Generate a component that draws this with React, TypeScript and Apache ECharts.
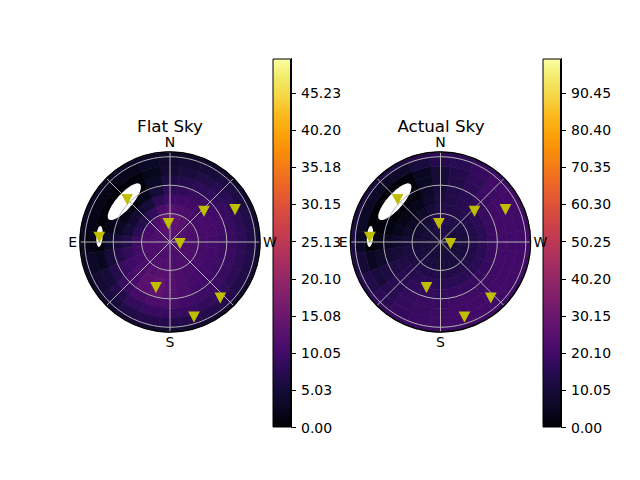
import React, { useEffect, useRef } from 'react';
import * as echarts from 'echarts';

// Azimuth bin centres (deg, N=0, E=90, S=180, W=270) and zenith ring edges (deg)
const AZIMUTHS = [0, 15, 30, 45, 60, 75, 90, 105, 120, 135, 150, 165, 180, 195, 210, 225, 240, 255, 270, 285, 300, 315, 330, 345];
const AZ_HALF = 7.5;
const RING_EDGES = [0, 10, 20, 30, 40, 50, 60, 70, 80, 90, 95];

// Flat Sky field, one row per zenith ring, one value per azimuth bin
const FLAT_SKY = [
  [12.5, 12.5, 12, 11.5, 11.5, 11.5, 11.5, 11.5, 11.5, 11.5, 11.5, 11.5, 11.5, 11.5, 11.5, 11.5, 11.5, 11.5, 11.5, 11.5, 11.5, 12, 12, 12.5],
  [13.5, 13, 12.5, 11.5, 11, 11, 11, 11, 11, 11, 11, 11, 11, 11, 11, 11, 11, 11, 11, 11, 11.5, 12, 12.5, 13],
  [14.5, 13.5, 11.5, 10.5, 10, 10.5, 11, 11, 11, 11, 11.5, 11.5, 11.5, 11, 11, 11, 11, 11, 11, 11, 11, 11.5, 12.5, 13.5],
  [12.5, 11, 8.5, 7, 7, 8, 9, 10, 10.5, 11, 12, 12.5, 12, 11, 10.5, 10.5, 10.5, 10.5, 10.5, 10.5, 10.5, 10.5, 11, 11.5],
  [10, 8, 5, 4, 4, 5, 7, 8.5, 10, 11, 13, 14, 12.5, 11, 10.5, 10, 10, 10, 10, 10.5, 10.5, 10, 10, 10],
  [8, 5, 2, 1, 1.5, 3, 5, 7, 9, 10.5, 12.5, 13.5, 12, 11, 10, 10, 9.5, 9.5, 9.5, 10, 10, 9.5, 9, 8.5],
  [6, 3, 0.5, 0, 0.5, 1.5, 3, 5, 7, 9, 10.5, 11, 11, 10, 9.5, 9.5, 9, 9, 9, 9, 9, 8.5, 8, 7],
  [4.5, 2, 0.5, 0.5, 0.5, 0.5, 0.5, 2.5, 5, 7, 8.5, 9, 9, 9, 8.5, 8.5, 8, 8, 8, 8, 8, 7.5, 6.5, 5.5],
  [4, 3, 2, 1.5, 1.5, 1.5, 1.5, 3, 4.5, 5.5, 6.5, 7, 7, 7, 7, 7, 6.5, 6.5, 6.5, 6.5, 6, 6, 5, 4.5],
  [3.5, 3, 3, 3, 3, 3, 3, 3, 3.5, 4, 4.5, 4.5, 4.5, 4.5, 4.5, 4.5, 4.5, 4.5, 4.5, 4.5, 4, 4, 4, 3.5],
];

// Actual Sky field
const ACTUAL_SKY = [
  [11, 10.5, 10, 9.5, 9.5, 9.5, 9.5, 9.5, 9.5, 9.5, 9.5, 9.5, 9.5, 9.5, 9.5, 9.5, 9.5, 9.5, 9.5, 9.5, 10, 10, 10.5, 11],
  [14, 13, 11, 9.5, 9, 9, 9.5, 9.5, 10, 10, 10, 10, 10, 10, 10, 10, 10, 10, 10, 10, 10.5, 11, 12, 13],
  [16, 13.5, 10, 8, 7.5, 8, 9, 10, 10.5, 11, 11, 11, 11, 11, 11, 11, 11, 11, 11, 11, 11.5, 12, 13, 14.5],
  [13.5, 10.5, 7, 5.5, 5.5, 7, 9, 11, 12, 12.5, 13, 13.5, 13, 13, 13, 13, 13, 13, 13, 13, 13.5, 13.5, 13, 13],
  [12, 8, 4, 3, 3, 4.5, 7.5, 10, 12.5, 14, 15, 15.5, 15, 15, 15, 15, 15, 15.5, 15.5, 15.5, 15.5, 15, 14, 13],
  [11, 6, 2, 1, 1, 2.5, 5, 9, 12.5, 15, 16.5, 17, 17, 17.5, 17.5, 17.5, 17.5, 18, 18, 18, 18, 17, 15, 13],
  [10, 5, 1, 0, 0.5, 1.5, 3, 7, 11.5, 15, 17, 18, 18.5, 19, 19, 19, 19, 19.5, 19.5, 19.5, 19.5, 18.5, 16, 13],
  [10, 5, 1, 0.5, 0.5, 0.5, 0.5, 5, 10.5, 14.5, 17, 18, 19, 19.5, 19.5, 20, 20, 20, 20, 20, 20, 19, 16.5, 13.5],
  [14, 11, 7, 6, 6, 6, 6, 9, 13, 15.5, 17.5, 18.5, 19, 19.5, 20, 20, 20, 20, 20, 20, 20, 19.5, 17.5, 15],
  [16, 14, 12, 12, 12, 12, 12, 13, 15, 17, 18, 18.5, 19, 19, 19.5, 19.5, 19.5, 19.5, 19.5, 19.5, 19.5, 19, 17.5, 16],
];

const FLAT_MAX = 49.88;
const ACTUAL_MAX = 99.75;
const FLAT_TICKS = [0, 5.03, 10.05, 15.08, 20.1, 25.13, 30.15, 35.18, 40.2, 45.23];
const ACTUAL_TICKS = [0, 10.05, 20.1, 30.15, 40.2, 50.25, 60.3, 70.35, 80.4, 90.45];

// Star markers (zenith deg, azimuth deg)
const MARKER_ZENITH = [64, 74.8, 19.8, 10.6, 48.6, 76.8, 50, 79.2, 82.8];
const MARKER_AZIMUTH = [45, 86, 5, 262.6, 312.4, 296.7, 162.8, 222.1, 197.8];

// Masked (blank) regions: centre zenith, centre azimuth, radial half-size, azimuthal half-size (deg)
const MASK_ZENITH = [64.3, 74.6];
const MASK_AZIMUTH = [48.6, 85.5];
const MASK_RADIAL_HALF = [8.2, 3.3];
const MASK_AZ_HALF = [22.1, 8.5];

const INFERNO = [
  '#000004', '#0a0722', '#160b39', '#280b53', '#420a68', '#57106e', '#6a176e', '#7f1e6c',
  '#932667', '#a82e5f', '#bc3754', '#cc4248', '#dd513a', '#ea632a', '#f37819', '#f98e09',
  '#fca50a', '#fbba1f', '#f6d746', '#f2ea69', '#fcffa4',
];

const FONT = 'DejaVu Sans';
const DIR_LABELS: Record<number, string> = { 0: 'N', 90: 'E', 180: 'S', 270: 'W' };

function heatData(values: number[][]) {
  const out: number[][] = [];
  values.forEach((row, ri) => {
    const zLo = RING_EDGES[ri];
    const zHi = RING_EDGES[ri + 1];
    row.forEach((v, ai) => out.push([(zLo + zHi) / 2, AZIMUTHS[ai], v, zLo, zHi]));
  });
  return out;
}

function renderHeat(params: any, api: any) {
  const cs = params.coordSys;
  const cx = cs.cx;
  const cy = cs.cy;
  const a = api.value(1);
  const zLo = api.value(3);
  const zHi = api.value(4);
  const pHi = api.coord([zHi, a + AZ_HALF]);
  const pLo = api.coord([zHi, a - AZ_HALF]);
  const pIn = api.coord([zLo, a]);
  const r = Math.hypot(pHi[0] - cx, pHi[1] - cy);
  const r0 = zLo <= 0 ? 0 : Math.hypot(pIn[0] - cx, pIn[1] - cy);
  let s = Math.atan2(pHi[1] - cy, pHi[0] - cx);
  let e = Math.atan2(pLo[1] - cy, pLo[0] - cx);
  while (e <= s) e += Math.PI * 2;
  if (e - s > Math.PI) {
    const s2 = Math.atan2(pLo[1] - cy, pLo[0] - cx);
    let e2 = Math.atan2(pHi[1] - cy, pHi[0] - cx);
    while (e2 <= s2) e2 += Math.PI * 2;
    s = s2;
    e = e2;
  }
  const color = api.visual('color');
  return {
    type: 'sector',
    shape: { cx, cy, r0, r, startAngle: s, endAngle: e, clockwise: true },
    style: { fill: color, stroke: color, lineWidth: 0.7 },
  };
}

function renderMask(params: any, api: any) {
  const cs = params.coordSys;
  const cx = cs.cx;
  const cy = cs.cy;
  const z = api.value(0);
  const a = api.value(1);
  const zh = api.value(2);
  const ah = api.value(3);
  const c = api.coord([z, a]);
  const pOut = api.coord([z + zh, a]);
  const rho = Math.hypot(c[0] - cx, c[1] - cy);
  const ux = (c[0] - cx) / rho;
  const uy = (c[1] - cy) / rho;
  const radLen = Math.hypot(pOut[0] - c[0], pOut[1] - c[1]);
  const tanLen = (rho * ah * Math.PI) / 180;
  const tx = -uy;
  const ty = ux;
  const points: number[][] = [];
  for (let k = 0; k < 60; k++) {
    const t = (2 * Math.PI * k) / 60;
    points.push([
      c[0] + ux * radLen * Math.cos(t) + tx * tanLen * Math.sin(t),
      c[1] + uy * radLen * Math.cos(t) + ty * tanLen * Math.sin(t),
    ]);
  }
  return { type: 'polygon', shape: { points }, style: { fill: '#ffffff' } };
}

const maskData = MASK_ZENITH.map((z, i) => [z, MASK_AZIMUTH[i], MASK_RADIAL_HALF[i], MASK_AZ_HALF[i]]);
const markerData = MARKER_ZENITH.map((z, i) => [z, MARKER_AZIMUTH[i]]);

function gradient() {
  return new echarts.graphic.LinearGradient(
    0, 1, 0, 0,
    INFERNO.map((c, i) => ({ offset: i / (INFERNO.length - 1), color: c }))
  );
}

function angleAxis(idx: number) {
  return {
    polarIndex: idx,
    type: 'value',
    min: 0,
    max: 360,
    interval: 45,
    startAngle: 90,
    clockwise: false,
    z: 11,
    axisLine: { show: true, lineStyle: { color: '#000', width: 1.5 } },
    axisTick: { show: false },
    splitLine: { show: true, lineStyle: { color: '#b0b0b0', width: 1 } },
    axisLabel: {
      margin: 3,
      color: '#000',
      fontSize: 14,
      fontFamily: FONT,
      formatter: (v: number) => DIR_LABELS[v] ?? '',
    },
  };
}

function radiusAxis(idx: number) {
  return {
    polarIndex: idx,
    type: 'value',
    min: 0,
    max: 95,
    interval: 30,
    z: 10,
    axisLine: { show: false },
    axisTick: { show: false },
    axisLabel: { show: false },
    splitLine: { show: true, lineStyle: { color: '#b0b0b0', width: 1 } },
  };
}

function cbYAxis(idx: number, max: number, ticks: number[]) {
  return {
    gridIndex: idx,
    type: 'value',
    min: 0,
    max,
    position: 'right',
    axisLine: { show: true, lineStyle: { color: '#000', width: 1 } },
    axisTick: { show: true, length: 5, lineStyle: { color: '#000' }, customValues: ticks },
    axisLabel: {
      customValues: ticks,
      formatter: (v: number) => v.toFixed(2),
      margin: 10,
      color: '#000',
      fontSize: 14,
      fontFamily: FONT,
    },
    splitLine: { show: false },
  };
}

const markerStyle = { color: '#bfbf00', borderColor: '#bfbf00', borderWidth: 1, opacity: 1 };

export default function App() {
  const ref = useRef<HTMLDivElement>(null);
  useEffect(() => {
    if (!ref.current) return;
    const chart = echarts.init(ref.current, null, { renderer: 'svg' });
    const option: any = {
      animation: false,
      backgroundColor: '#ffffff',
      textStyle: { fontFamily: FONT },
      polar: [
        { center: [170, 242], radius: 90 },
        { center: [440.5, 242], radius: 90 },
      ],
      angleAxis: [angleAxis(0), angleAxis(1)],
      radiusAxis: [radiusAxis(0), radiusAxis(1)],
      grid: [
        { left: 272.5, top: 58.5, width: 18.5, height: 369 },
        { left: 542.5, top: 58.5, width: 18.5, height: 369 },
      ],
      xAxis: [
        { gridIndex: 0, type: 'category', data: ['cb'], show: false },
        { gridIndex: 1, type: 'category', data: ['cb'], show: false },
      ],
      yAxis: [cbYAxis(0, FLAT_MAX, FLAT_TICKS), cbYAxis(1, ACTUAL_MAX, ACTUAL_TICKS)],
      visualMap: [
        { type: 'continuous', show: false, seriesIndex: 0, dimension: 2, min: 0, max: FLAT_MAX, inRange: { color: INFERNO } },
        { type: 'continuous', show: false, seriesIndex: 1, dimension: 2, min: 0, max: ACTUAL_MAX, inRange: { color: INFERNO } },
      ],
      graphic: [
        { type: 'text', x: 170, y: 126, style: { text: 'Flat Sky', fontSize: 16.7, fontFamily: FONT, fill: '#000', align: 'center', verticalAlign: 'middle' } },
        { type: 'text', x: 441, y: 126, style: { text: 'Actual Sky', fontSize: 16.7, fontFamily: FONT, fill: '#000', align: 'center', verticalAlign: 'middle' } },
      ],
      series: [
        { type: 'custom', coordinateSystem: 'polar', polarIndex: 0, z: 1, encode: { radius: 0, angle: 1 }, data: heatData(FLAT_SKY), renderItem: renderHeat, silent: true },
        { type: 'custom', coordinateSystem: 'polar', polarIndex: 1, z: 1, encode: { radius: 0, angle: 1 }, data: heatData(ACTUAL_SKY), renderItem: renderHeat, silent: true },
        { type: 'custom', coordinateSystem: 'polar', polarIndex: 0, z: 2, encode: { radius: 0, angle: 1 }, data: maskData, renderItem: renderMask, silent: true },
        { type: 'custom', coordinateSystem: 'polar', polarIndex: 1, z: 2, encode: { radius: 0, angle: 1 }, data: maskData, renderItem: renderMask, silent: true },
        { type: 'scatter', coordinateSystem: 'polar', polarIndex: 0, z: 20, symbol: 'triangle', symbolRotate: 180, symbolSize: [10, 9.5], itemStyle: markerStyle, data: markerData, silent: true },
        { type: 'scatter', coordinateSystem: 'polar', polarIndex: 1, z: 20, symbol: 'triangle', symbolRotate: 180, symbolSize: [10, 9.5], itemStyle: markerStyle, data: markerData, silent: true },
        { type: 'bar', xAxisIndex: 0, yAxisIndex: 0, barWidth: '100%', data: [FLAT_MAX], itemStyle: { color: gradient(), borderColor: '#000', borderWidth: 1 }, silent: true },
        { type: 'bar', xAxisIndex: 1, yAxisIndex: 1, barWidth: '100%', data: [ACTUAL_MAX], itemStyle: { color: gradient(), borderColor: '#000', borderWidth: 1 }, silent: true },
      ],
    };
    chart.setOption(option);
    return () => chart.dispose();
  }, []);
  return <div ref={ref} style={{ position: 'absolute', left: 0, top: 0, width: 640, height: 480 }} />;
}
